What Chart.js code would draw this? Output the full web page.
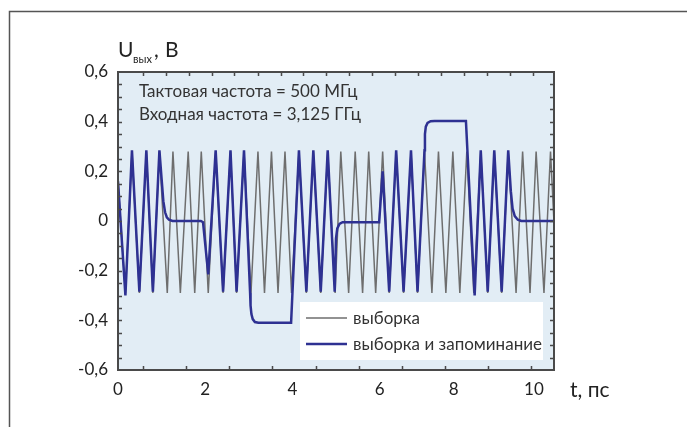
<!DOCTYPE html>
<html>
<head>
<meta charset="utf-8">
<script src="https://cdn.jsdelivr.net/npm/chart.js@4.4.0/dist/chart.umd.min.js"></script>
<style>
  body { margin: 0; background: #fff; }
  canvas { display: block; }
</style>
</head>
<body>
<canvas id="chart" width="687" height="427"></canvas>
<script>
// sampling input (triangle), vertices
const grayT = [0, 0.17, 0.32, 0.49, 0.65, 0.80, 0.95, 1.13, 1.26, 1.43, 1.61, 1.76, 1.91, 2.07, 2.24, 2.41,
  2.58, 2.72, 2.89, 3.05, 3.21, 3.36, 3.52, 3.67, 3.83, 3.98, 4.15, 4.32, 4.48, 4.65, 4.81, 4.98,
  5.11, 5.29, 5.44, 5.61, 5.75, 5.91, 6.07, 6.22, 6.38, 6.55, 6.72, 6.87, 7.03, 7.20, 7.35, 7.52,
  7.68, 7.84, 8.00, 8.16, 8.32, 8.48, 8.63, 8.80, 8.95, 9.13, 9.28, 9.45, 9.59, 9.77, 9.92, 10.08];
const grayV = [0.16, -0.29, 0.28, -0.29, 0.28, -0.29, 0.28, -0.29, 0.28, -0.29, 0.28, -0.29, 0.28, -0.29, 0.28, -0.29,
  0.28, -0.29, 0.28, -0.29, 0.28, -0.29, 0.28, -0.29, 0.28, -0.29, 0.28, -0.29, 0.28, -0.29, 0.28, -0.29,
  0.28, -0.29, 0.28, -0.29, 0.28, -0.29, 0.28, -0.29, 0.28, -0.29, 0.28, -0.29, 0.28, -0.29, 0.28, -0.29,
  0.28, -0.29, 0.28, -0.29, 0.28, -0.29, 0.28, -0.29, 0.28, -0.29, 0.28, -0.29, 0.28, -0.29, 0.28, -0.29];

// sample-and-hold output
const blueT = [0, 0.17, 0.32, 0.49, 0.65, 0.80, 0.95, 1.00, 1.04, 1.08, 1.12, 1.17, 1.25, 1.90, 1.95, 2.07,
  2.24, 2.41, 2.58, 2.72, 2.89, 3.03, 3.04, 3.06, 3.09, 3.14, 3.22, 3.97, 4.15, 4.32, 4.48, 4.65,
  4.81, 4.97, 5.00, 5.03, 5.08, 5.15, 5.99, 6.07, 6.22, 6.38, 6.55, 6.72, 6.87, 7.03, 7.04, 7.06,
  7.10, 7.17, 7.26, 7.98, 8.18, 8.32, 8.48, 8.63, 8.80, 8.95, 9.01, 9.05, 9.10, 9.17, 9.25, 10.0];
const blueV = [0.16, -0.30, 0.285, -0.285, 0.285, -0.285, 0.285, 0.17, 0.08, 0.035, 0.015, 0.005, 0, 0, -0.005, -0.215,
  0.285, -0.285, 0.285, -0.285, 0.285, -0.29, -0.34, -0.375, -0.395, -0.407, -0.41, -0.41, 0.285, -0.285, 0.285, -0.285,
  0.285, -0.285, -0.07, -0.03, -0.012, -0.005, -0.005, 0.2, -0.285, 0.285, -0.285, 0.285, -0.285, 0.285, 0.35, 0.38,
  0.395, 0.402, 0.403, 0.403, -0.30, 0.285, -0.285, 0.285, -0.285, 0.285, 0.12, 0.05, 0.02, 0.005, 0, 0];

const seriesNames = ['выборка', 'выборка и запоминание'];

const yTickValues = [-0.6, -0.4, -0.2, 0, 0.2, 0.4, 0.6];
const yTickLabels = ['-0,6', '-0,4', '-0,2', '0', '0,2', '0,4', '0,6'];
// x labels sit where the original drawing puts them
const xTickValues = [0, 2, 4, 6, 7.7, 9.54];
const xTickLabels = ['0', '2', '4', '6', '8', '10'];

const yMinor = [-0.55, -0.5, -0.45, -0.4, -0.35, -0.3, -0.25, -0.2, -0.15, -0.1, -0.05, 0,
  0.05, 0.1, 0.15, 0.2, 0.25, 0.3, 0.35, 0.4, 0.45, 0.5, 0.55];
const xMinorBottom = [0.57, 1.56, 2.55, 3.54, 4.53, 5.52, 6.51, 7.50, 8.49, 9.48];
const xMinorTop = [0.57, 1.10, 1.62, 2.15, 2.67, 3.20, 3.73, 4.25, 4.78, 5.30, 5.83, 6.36, 6.88, 7.41,
  7.93, 8.46, 8.99, 9.51];

const FONT = 'Lato, "Noto Sans", sans-serif';

const decor = {
  id: 'decor',
  beforeDraw(chart) {
    const { ctx, chartArea: a } = chart;
    ctx.save();
    ctx.fillStyle = '#e2edf5';
    ctx.fillRect(a.left, a.top, a.right - a.left, a.bottom - a.top);
    // outer frame of the figure
    ctx.strokeStyle = '#555';
    ctx.lineWidth = 1.5;
    ctx.beginPath();
    ctx.moveTo(9.5, chart.height);
    ctx.lineTo(9.5, 11.5);
    ctx.lineTo(chart.width, 11.5);
    ctx.stroke();
    ctx.restore();
  },
  afterDatasetsDraw(chart) {
    const { ctx, chartArea: a, scales: { x, y } } = chart;
    ctx.save();

    // legend
    const lx = 300, ly = 302, lw = 243, lh = 58;
    ctx.fillStyle = '#fff';
    ctx.fillRect(lx, ly, lw, lh);
    ctx.font = '17px ' + FONT;
    ctx.textBaseline = 'middle';
    chart.data.datasets.forEach((ds, i) => {
      const yy = ly + 16 + i * 26;
      ctx.strokeStyle = ds.borderColor;
      ctx.lineWidth = ds.borderWidth;
      ctx.beginPath();
      ctx.moveTo(lx + 6, yy);
      ctx.lineTo(lx + 47, yy);
      ctx.stroke();
      ctx.fillStyle = '#333';
      ctx.fillText(ds.label, lx + 53, yy + 1);
    });

    // plot frame
    ctx.strokeStyle = '#4a4a4a';
    ctx.lineWidth = 2;
    ctx.strokeRect(a.left, a.top, a.right - a.left, a.bottom - a.top);

    // inward minor ticks
    ctx.lineWidth = 1.5;
    ctx.beginPath();
    yMinor.forEach(v => {
      const p = Math.round(y.getPixelForValue(v)) + 0.5;
      ctx.moveTo(a.left, p); ctx.lineTo(a.left + 4, p);
      ctx.moveTo(a.right, p); ctx.lineTo(a.right - 4, p);
    });
    xMinorBottom.forEach(v => {
      const p = Math.round(x.getPixelForValue(v)) + 0.5;
      ctx.moveTo(p, a.bottom); ctx.lineTo(p, a.bottom - 4);
    });
    xMinorTop.forEach(v => {
      const p = Math.round(x.getPixelForValue(v)) + 0.5;
      ctx.moveTo(p, a.top); ctx.lineTo(p, a.top + 4);
    });
    ctx.stroke();

    // texts
    ctx.fillStyle = '#333';
    ctx.textBaseline = 'alphabetic';
    ctx.font = '17px ' + FONT;
    ctx.fillText('Тактовая частота = 500 МГц', 139, 97);
    ctx.fillText('Входная частота = 3,125 ГГц', 139, 120);

    ctx.fillStyle = '#222';
    ctx.font = '21px ' + FONT;
    ctx.fillText('U', 118, 57);
    ctx.font = '11px ' + FONT;
    ctx.fillText('вых', 133, 63);
    ctx.font = '21px ' + FONT;
    ctx.fillText(',', 154, 57);
    ctx.fillText('В', 165, 57);
    ctx.font = '21px ' + FONT;
    ctx.fillText('t, пс', 570, 397);
    ctx.restore();
  }
};

new Chart(document.getElementById('chart'), {
  type: 'line',
  data: {
    datasets: [
      {
        label: seriesNames[0],
        data: grayT.map((t, i) => ({ x: t, y: grayV[i] })),
        borderColor: '#6e6e6e',
        borderWidth: 1.5,
        pointRadius: 0,
        tension: 0,
        order: 2
      },
      {
        label: seriesNames[1],
        data: blueT.map((t, i) => ({ x: t, y: blueV[i] })),
        borderColor: '#2e3192',
        borderWidth: 2.5,
        pointRadius: 0,
        tension: 0,
        order: 1
      }
    ]
  },
  options: {
    responsive: false,
    animation: false,
    layout: { padding: { top: 72, right: 133, left: 0, bottom: 0 } },
    plugins: { legend: { display: false }, tooltip: { enabled: false } },
    scales: {
      x: {
        type: 'linear',
        min: 0,
        max: 10,
        grid: { display: false, drawTicks: false },
        border: { display: false },
        afterBuildTicks: s => { s.ticks = xTickValues.map(v => ({ value: v })); },
        afterFit: s => { s.height = 57; },
        ticks: {
          padding: 9,
          color: '#222',
          font: { family: FONT, size: 17 },
          autoSkip: false,
          maxRotation: 0,
          callback: (v, i) => xTickLabels[i]
        }
      },
      y: {
        min: -0.6,
        max: 0.6,
        grid: { display: false, drawTicks: false },
        border: { display: false },
        afterBuildTicks: s => { s.ticks = yTickValues.map(v => ({ value: v })); },
        afterFit: s => { s.width = 118; },
        ticks: {
          padding: 10,
          color: '#222',
          font: { family: FONT, size: 17 },
          callback: (v, i) => yTickLabels[i]
        }
      }
    }
  },
  plugins: [decor]
});
</script>
</body>
</html>
